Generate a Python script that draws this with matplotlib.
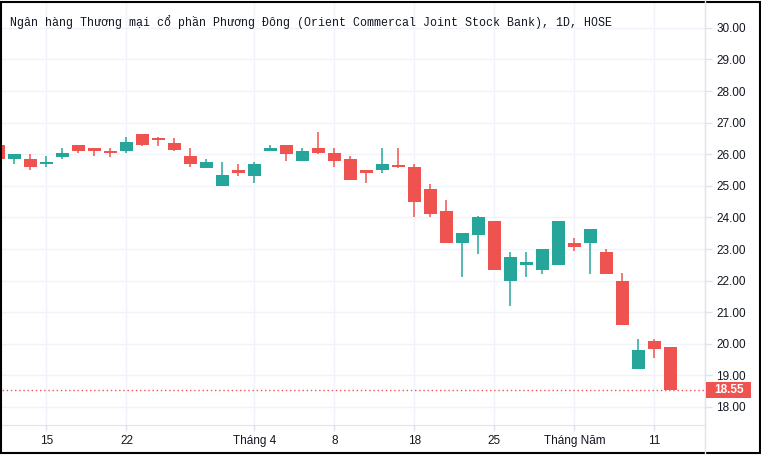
import matplotlib.pyplot as plt
from matplotlib.patches import Rectangle
from matplotlib.lines import Line2D

# OCB daily candles, 10 Mar 2022 - 12 May 2022
dates = ["2022-03-10", "2022-03-11", "2022-03-14", "2022-03-15", "2022-03-16",
         "2022-03-17", "2022-03-18", "2022-03-21", "2022-03-22", "2022-03-23",
         "2022-03-24", "2022-03-25", "2022-03-28", "2022-03-29", "2022-03-30",
         "2022-03-31", "2022-04-01", "2022-04-04", "2022-04-05", "2022-04-06",
         "2022-04-07", "2022-04-08", "2022-04-12", "2022-04-13", "2022-04-14",
         "2022-04-15", "2022-04-18", "2022-04-19", "2022-04-20", "2022-04-21",
         "2022-04-22", "2022-04-25", "2022-04-26", "2022-04-27", "2022-04-28",
         "2022-04-29", "2022-05-04", "2022-05-05", "2022-05-06", "2022-05-09",
         "2022-05-10", "2022-05-11", "2022-05-12"]
opens = [26.30, 25.85, 25.85, 25.70, 25.90, 26.30, 26.20, 26.10, 26.10, 26.65,
         26.50, 26.35, 25.95, 25.55, 25.00, 25.50, 25.30, 26.10, 26.30, 25.80,
         26.20, 26.05, 25.85, 25.50, 25.50, 25.65, 25.60, 24.90, 24.20, 23.20,
         23.45, 23.90, 22.00, 22.50, 22.35, 22.50, 23.20, 23.20, 22.90, 22.00,
         19.20, 20.10, 19.90]
highs = [26.35, 26.00, 26.00, 25.95, 26.20, 26.30, 26.20, 26.20, 26.55, 26.65,
         26.55, 26.50, 26.20, 25.85, 25.75, 25.70, 25.75, 26.30, 26.30, 26.20,
         26.70, 26.20, 25.95, 25.50, 26.20, 26.20, 25.70, 25.05, 24.55, 23.50,
         24.05, 23.90, 22.90, 22.90, 23.00, 23.90, 23.35, 23.65, 23.00, 22.25,
         20.15, 20.15, 19.90]
lows = [25.80, 25.70, 25.50, 25.60, 25.85, 26.05, 25.95, 25.90, 26.05, 26.25,
        26.25, 26.10, 25.60, 25.55, 25.00, 25.30, 25.10, 26.10, 25.80, 25.80,
        26.00, 25.60, 25.20, 25.10, 25.40, 25.55, 24.00, 24.00, 23.20, 22.10,
        22.85, 22.35, 21.20, 22.10, 22.20, 22.50, 22.95, 22.20, 22.20, 20.60,
        19.20, 19.55, 18.55]
closes = [25.85, 26.00, 25.60, 25.75, 26.05, 26.10, 26.10, 26.05, 26.40, 26.30,
          26.45, 26.15, 25.70, 25.75, 25.35, 25.40, 25.70, 26.20, 26.00, 26.10,
          26.05, 25.80, 25.20, 25.40, 25.70, 25.60, 24.50, 24.10, 23.20, 23.50,
          24.00, 22.35, 22.75, 22.60, 23.00, 23.90, 23.05, 23.65, 22.20, 20.60,
          19.80, 19.85, 18.55]

tick_dates = ["2022-03-15", "2022-03-22", "2022-04-01", "2022-04-08",
              "2022-04-18", "2022-04-25", "2022-05-04", "2022-05-11"]
tick_labels = ["15", "22", "Tháng 4", "8", "18", "25", "Tháng Năm", "11"]
price_ticks = [18, 19, 20, 21, 22, 23, 24, 25, 26, 27, 28, 29, 30]
last_price = 18.55

title = ("Ngân hàng Thương mại cổ phần Phương Đông "
         "(Orient Commercal Joint Stock Bank), 1D, HOSE")

UP = "#26a69a"
DOWN = "#ef5350"
GRID = "#f0f3fa"
AXIS = "#e0e3eb"
TEXT = "#131722"

W, H = 761, 457
fig = plt.figure(figsize=(W / 100, H / 100), dpi=100)
ax = fig.add_axes([2 / W, 1 - 425 / H, 703 / W, 423 / H])

x = list(range(len(dates)))
cols = [UP if c >= o else DOWN for o, c in zip(opens, closes)]
bottoms = [min(o, c) for o, c in zip(opens, closes)]
heights = [max(abs(c - o), 0.04) for o, c in zip(opens, closes)]

ax.vlines(x, lows, highs, colors=cols, lw=1.1, zorder=3)
ax.bar(x, heights, bottom=bottoms, width=0.78, color=cols, lw=0, zorder=4)

ax.axhline(last_price, color=DOWN, lw=1, ls=(0, (1, 2)), zorder=2)

ax.set_xlim(0.22, 44.16)
ax.set_ylim(17.43, 30.82)

ax.set_yticks(price_ticks)
ax.set_yticklabels(["%.2f" % p for p in price_ticks])
ax.yaxis.tick_right()
ax.set_xticks([dates.index(d) for d in tick_dates])
ax.set_xticklabels(tick_labels)

ax.grid(True, color=GRID, lw=1, zorder=0)
ax.set_axisbelow(True)
for s in ["left", "top"]:
    ax.spines[s].set_visible(False)
ax.spines["right"].set_color(AXIS)
ax.spines["bottom"].set_color(AXIS)

ax.tick_params(axis="y", right=True, length=5, width=1, color=AXIS,
               labelsize=8.5, labelcolor=TEXT, pad=3)
ax.tick_params(axis="x", length=4, width=1, color=AXIS,
               labelsize=8.5, labelcolor=TEXT, pad=3)
for lab in ax.get_xticklabels() + ax.get_yticklabels():
    lab.set_family("Liberation Sans")

# last price tag on the price scale
ytag = ax.transData.transform((0, last_price))[1]
fig.add_artist(Rectangle((706 / W, (ytag - 8) / H), 45 / W, 16 / H,
                         fc=DOWN, ec="none", zorder=10))
fig.text(729 / W, ytag / H, "%.2f" % last_price, ha="center", va="center",
         color="white", fontsize=8.5, fontweight="bold",
         family="Liberation Sans", zorder=11)

ax.text(8 / 703, 1 - 20 / 423, title, transform=ax.transAxes, ha="left",
        va="center", fontsize=8.4, color=TEXT,
        family=["Liberation Mono", "DejaVu Sans Mono", "DejaVu Sans"])

# price scale border running through the time axis, and outer frame
fig.add_artist(Line2D([705 / W, 705 / W], [1 - 453 / H, 1], color=AXIS, lw=1))
fig.add_artist(Rectangle((1.5 / W, 1 - 453 / H), 758 / W, 451.5 / H,
                         fill=False, ec="black", lw=1.5))

fig.savefig("out.png", dpi=100)
